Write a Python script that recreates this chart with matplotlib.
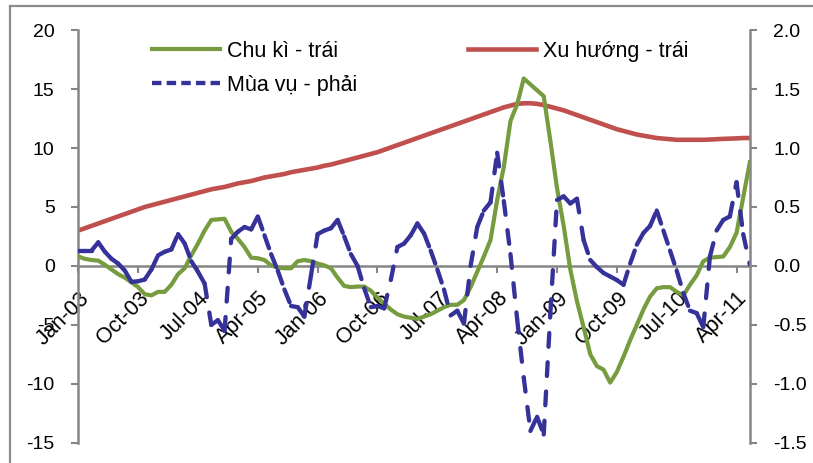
import matplotlib
matplotlib.use("Agg")
import matplotlib.pyplot as plt
import numpy as np
from matplotlib.collections import LineCollection
from matplotlib.lines import Line2D
from matplotlib.transforms import ScaledTranslation

plt.rcParams['font.family'] = ['Liberation Sans', 'DejaVu Sans']
plt.rcParams['axes.unicode_minus'] = False

# thang 1/2003 -> 6/2011, so lieu theo thang
tick_labels = ['Jan-03', 'Oct-03', 'Jul-04', 'Apr-05', 'Jan-06', 'Oct-06',
               'Jul-07', 'Apr-08', 'Jan-09', 'Oct-09', 'Jul-10', 'Apr-11']

# Chu ki - truc trai
chu_ki = [0.8, 0.6, 0.5, 0.45, 0.1, -0.3, -0.7, -1.0, -1.4, -1.8,
          -2.4, -2.5, -2.2, -2.2, -1.6, -0.7, -0.2, 0.9, 1.9, 3.0,
          3.9, 3.95, 4.0, 2.9, 2.3, 1.6, 0.7, 0.65, 0.5, 0.05,
          -0.15, -0.2, -0.2, 0.4, 0.5, 0.4, 0.2, 0.05, -0.2, -1.0,
          -1.7, -1.8, -1.75, -1.75, -2.1, -2.7, -3.2, -3.7, -4.1, -4.3,
          -4.4, -4.5, -4.3, -4.1, -3.8, -3.5, -3.3, -3.3, -2.9, -1.8,
          -0.5, 0.8, 2.2, 5.6, 8.4, 12.3, 13.7, 15.9, 15.4, 14.9,
          14.4, 10.6, 6.6, 3.4, -0.3, -3.0, -5.2, -7.5, -8.5, -8.8,
          -9.9, -9.0, -7.7, -6.3, -5.0, -3.7, -2.6, -1.9, -1.8, -1.8,
          -2.2, -2.5, -1.6, -0.8, 0.4, 0.7, 0.75, 0.8, 1.6, 2.8,
          5.8, 8.8]

# Xu huong - truc trai
xu_huong = [3.0, 3.2, 3.4, 3.6, 3.8, 4.0, 4.2, 4.4, 4.6, 4.8,
            5.0, 5.15, 5.3, 5.45, 5.6, 5.75, 5.9, 6.05, 6.2, 6.35,
            6.5, 6.6, 6.7, 6.85, 7.0, 7.1, 7.2, 7.35, 7.5, 7.6,
            7.7, 7.8, 7.95, 8.05, 8.15, 8.25, 8.35, 8.5, 8.6, 8.75,
            8.9, 9.05, 9.2, 9.35, 9.5, 9.65, 9.85, 10.05, 10.25, 10.45,
            10.65, 10.85, 11.05, 11.25, 11.45, 11.65, 11.85, 12.05, 12.25, 12.45,
            12.65, 12.85, 13.05, 13.25, 13.45, 13.6, 13.75, 13.8, 13.8, 13.75,
            13.65, 13.5, 13.35, 13.2, 13.0, 12.8, 12.6, 12.4, 12.2, 12.0,
            11.8, 11.6, 11.45, 11.3, 11.15, 11.05, 10.95, 10.85, 10.8, 10.75,
            10.7, 10.7, 10.7, 10.7, 10.7, 10.72, 10.75, 10.78, 10.8, 10.82,
            10.85, 10.85]

# Mua vu - truc phai
mua_vu = [0.13, 0.13, 0.13, 0.20, 0.12, 0.06, 0.02, -0.04, -0.135, -0.13,
          -0.115, -0.03, 0.09, 0.12, 0.14, 0.27, 0.19, 0.04, -0.05, -0.15,
          -0.50, -0.46, -0.55, 0.23, 0.29, 0.33, 0.31, 0.42, 0.26, 0.10,
          -0.04, -0.20, -0.34, -0.35, -0.43, -0.08, 0.27, 0.30, 0.32, 0.39,
          0.25, 0.10, 0.0, -0.19, -0.35, -0.34, -0.36, -0.12, 0.16, 0.19,
          0.26, 0.36, 0.275, 0.13, -0.03, -0.20, -0.42, -0.38, -0.49, 0.0,
          0.33, 0.47, 0.54, 0.96, 0.55, 0.10, -0.45, -0.95, -1.40, -1.28,
          -1.43, -0.40, 0.56, 0.59, 0.53, 0.57, 0.22, 0.05, -0.01, -0.06,
          -0.09, -0.12, -0.16, 0.02, 0.18, 0.28, 0.34, 0.47, 0.30, 0.13,
          -0.04, -0.23, -0.38, -0.40, -0.52, 0.08, 0.30, 0.39, 0.42, 0.71,
          0.27, 0.01]

x = np.arange(len(chu_ki))
green = '#779B3F'
red = '#C0504D'
blue = '#35339A'
gray = '#868686'

fig = plt.figure(figsize=(8.13, 4.63), dpi=100)

# khung ngoai
fig.add_artist(Line2D([0.0123, 0.0123], [0.0, 0.986], color='#8C8C8C', lw=1.6))
fig.add_artist(Line2D([0.0123, 1.0], [0.986, 0.986], color='#8C8C8C', lw=1.6))

ax = fig.add_axes([0.0963, 0.0438, 0.826, 0.891])
ax2 = ax.twinx()

l_red, = ax.plot(x, xu_huong, color=red, lw=3.3, zorder=2)
l_green, = ax.plot(x, chu_ki, color=green, lw=3.0, zorder=3)

# Excel bat dau lai net dut o moi doan
pts = np.column_stack([x, mua_vu])
segs = np.stack([pts[:-1], pts[1:]], axis=1)
lc = LineCollection(segs, colors=blue, linewidths=3.1,
                    linestyles=[(0, (3.2, 3.6))], capstyle='round')
ax2.add_collection(lc)
l_blue = Line2D([], [], color=blue, lw=3.1, linestyle=(0, (2.2, 1.2)))

ax.set_xlim(0, len(x) - 1)
ax.set_ylim(-15, 20)
ax2.set_ylim(-1.5, 2.0)

for a in (ax, ax2):
    for s in a.spines.values():
        s.set_visible(False)
ax.spines['left'].set_visible(True)
ax.spines['bottom'].set_visible(True)
ax.spines['bottom'].set_position(('data', 0))
ax2.spines['right'].set_visible(True)
for s in (ax.spines['left'], ax.spines['bottom'], ax2.spines['right']):
    s.set_color(gray)
    s.set_linewidth(1.8)

ax.tick_params(axis='y', direction='out', length=5, width=1.5, color=gray,
               labelsize=14, pad=12)
ax.tick_params(axis='x', direction='out', length=5, width=1.5, color=gray,
               labelsize=15.5, pad=16)
ax2.tick_params(axis='y', direction='out', length=5, width=1.5, color=gray,
                labelsize=14, pad=12)

ax.set_yticks(np.arange(-15, 21, 5))
ax2.set_yticks(np.arange(-1.5, 2.01, 0.5))
ax2.set_yticklabels(['%.1f' % v for v in np.arange(-1.5, 2.01, 0.5)])

ax.set_xticks(np.arange(0, len(x), 9))
ax.set_xticklabels(tick_labels, rotation=45, ha='right', va='center',
                   rotation_mode='anchor')
for lab in ax.get_xticklabels():
    lab.set_transform(lab.get_transform() +
                      ScaledTranslation(0.08, 0, fig.dpi_scale_trans))

ax.legend([l_green, l_blue, l_red],
          ['Chu kì - trái', 'Mùa vụ - phải', 'Xu hướng - trái'],
          ncol=2, frameon=False, fontsize=15.5, loc='upper left',
          bbox_to_anchor=(0.11, 0.975), handlelength=3.15, handletextpad=0.33,
          columnspacing=5.15, labelspacing=0.62, borderpad=0, borderaxespad=0)

fig.savefig('out.png', dpi=100)
